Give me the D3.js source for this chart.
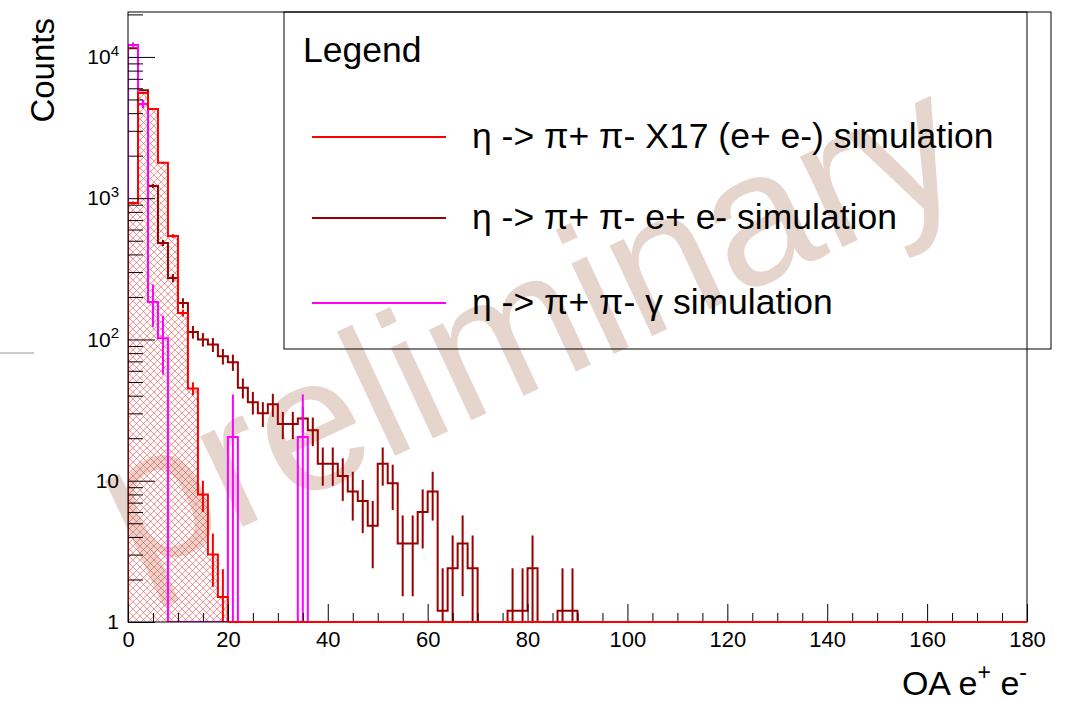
<!DOCTYPE html>
<html><head><meta charset="utf-8">
<script src="https://cdn.jsdelivr.net/npm/d3@7"></script>
<style>
body{margin:0;background:#fff}
text{font-family:"Liberation Sans",Arial,Helvetica,sans-serif}
</style>
</head><body>
<svg id="c" width="1066" height="701"></svg>
<script>
// ---------- data (bin width 2 in OA, 0..180) ----------
const binWidth = 2;
const xRange = [0, 180];
const yRange = [1, 20800];
// eta -> pi+ pi- X17 (e+ e-) simulation (first 10 bins; rest empty)
const x17Counts = [926, 5560, 4280, 1780, 540, 154, 45, 8, 3, 1.5];
// eta -> pi+ pi- e+ e- simulation
const eeCounts = [11500, 5800, 1220, 482, 272, 181, 113, 100, 92, 76,
                  69, 45.6, 36, 30, 34.8, 25.2, 25.2, 27.6, 22.8, 13.2,
                  13.2, 10.8, 8.4, 7.2, 4.8, 13.2, 9.6, 3.6, 3.6, 6.0,
                  8.4, 1.2, 2.4, 3.6, 2.4, 0, 0, 0, 1.2, 1.2,
                  2.4, 0, 0, 1.2, 1.2];
// eta -> pi+ pi- gamma simulation
const gammaCounts = [12170, 4650, 184, 102, 0, 0, 0, 0, 0, 0,
                     20.4, 0, 0, 0, 0, 0, 0, 20.4];
// per-event weights (errors = sqrt(sum w^2))
const x17Weight = 0.5, eeWeight = 1.2, gammaWeight = 20.4;

const xMajorTicks = [0, 20, 40, 60, 80, 100, 120, 140, 160, 180];
const yMajorTicks = [1, 10, 100, 1000, 10000];
const yTickBase = ["1", "10", "10", "10", "10"];
const yTickExp = ["", "", "2", "3", "4"];
const legendTitle = "Legend";
const legendLabels = ["η -> π+ π- X17 (e+ e-) simulation",
                      "η -> π+ π- e+ e- simulation",
                      "η -> π+ π- γ simulation"];
const seriesColors = ["#ff0000", "#990000", "#ff00ff"];

// ---------- layout ----------
const L = 128, R = 1027, T = 12, B = 622;
const svg = d3.select("#c");
const x = d3.scaleLinear().domain(xRange).range([L, R]);
const y = d3.scaleLog().domain(yRange).range([B, T]);

svg.append("defs").append("clipPath").attr("id", "frame")
  .append("rect").attr("x", L).attr("y", T).attr("width", R - L).attr("height", B - T);
const hatch = svg.select("defs").append("pattern").attr("id", "hatch")
  .attr("patternUnits", "userSpaceOnUse").attr("width", 7).attr("height", 7);
hatch.append("path").attr("d", "M0,0L7,7M7,0L0,7M-1,6L1,8M6,-1L8,1M-1,1L1,-1M6,8L8,6")
  .attr("stroke", "#ff3030").attr("stroke-width", 0.8).attr("stroke-opacity", 0.65).attr("fill", "none");

// stray gray line at left margin (present in reference)
svg.append("line").attr("x1", 0).attr("x2", 34).attr("y1", 353).attr("y2", 353)
  .attr("stroke", "#999").attr("stroke-width", 1.2);

// watermark
svg.append("text").text("preliminary")
  .attr("transform", "translate(527,322) rotate(-25)")
  .attr("text-anchor", "middle").attr("dominant-baseline", "central")
  .attr("font-size", 189).attr("fill", "#e6d5cc");

const nBins = (xRange[1] - xRange[0]) / binWidth;
function full(arr) { return d3.range(nBins).map(i => i < arr.length ? arr[i] : 0); }
function stepPoints(arr) {
  const vals = full(arr);
  const pts = [[x(xRange[0]), B]];
  vals.forEach((v, i) => {
    const yy = v > 0 ? y(Math.max(v, yRange[0])) : B;
    pts.push([x(i * binWidth), yy], [x((i + 1) * binWidth), yy]);
  });
  pts.push([x(xRange[1]), B]);
  return pts;
}
const line = d3.line();
const plot = svg.append("g").attr("clip-path", "url(#frame)");

function drawHist(arr, w, color) {
  const pts = stepPoints(arr);
  plot.append("path").attr("d", line(pts)).attr("fill", "none")
    .attr("stroke", color).attr("stroke-width", 2);
  const g = plot.append("g");
  full(arr).forEach((v, i) => {
    if (v <= 0) return;
    const e = Math.sqrt(v * w);
    const lo = v - e, hi = v + e;
    g.append("line")
      .attr("x1", x((i + 0.5) * binWidth)).attr("x2", x((i + 0.5) * binWidth))
      .attr("y1", y(hi)).attr("y2", lo >= yRange[0] ? y(lo) : B + 2)
      .attr("stroke", color).attr("stroke-width", 2);
  });
}
const x17Pts = stepPoints(x17Counts);
plot.append("path").attr("d", line(x17Pts) + "Z").attr("fill", "url(#hatch)").attr("stroke", "none");
drawHist(eeCounts, eeWeight, seriesColors[1]);
drawHist(gammaCounts, gammaWeight, seriesColors[2]);
drawHist(x17Counts, x17Weight, seriesColors[0]);

// ---------- axes ----------
const xMinor = d3.range(0, 181, 5).filter(v => v % 20 !== 0);
const ax = svg.append("g").attr("transform", `translate(0,${B})`);
ax.call(d3.axisBottom(x).tickValues(xMajorTicks).tickSizeInner(-18).tickSizeOuter(0).tickPadding(9)
  .tickFormat(d3.format("d")));
ax.append("g").call(d3.axisBottom(x).tickValues(xMinor).tickSizeInner(-9).tickSizeOuter(0).tickFormat(""));
ax.selectAll("text").attr("font-size", 22).attr("fill", "#000").attr("font-family", "Liberation Sans, Arial, sans-serif");
ax.selectAll(".domain").remove();

const yMinor = [];
[1, 10, 100, 1000, 10000].forEach(d => { for (let k = 2; k <= 9; k++) if (d * k <= yRange[1]) yMinor.push(d * k); });
const ay = svg.append("g").attr("transform", `translate(${L},0)`);
ay.call(d3.axisLeft(y).tickValues(yMajorTicks).tickSizeInner(-27).tickSizeOuter(0).tickPadding(9)
  .tickFormat(() => ""));
ay.append("g").call(d3.axisLeft(y).tickValues(yMinor).tickSizeInner(-15).tickSizeOuter(0).tickFormat(""));
ay.selectAll(".domain").remove();
ay.selectAll(".tick").filter(d => yMajorTicks.includes(d)).select("text").each(function (d) {
  const idx = yMajorTicks.indexOf(d);
  const t = d3.select(this).attr("font-size", 21).attr("fill", "#000")
    .attr("font-family", "Liberation Sans, Arial, sans-serif");
  t.append("tspan").text(yTickBase[idx]);
  if (yTickExp[idx]) t.append("tspan").attr("font-size", 15).attr("dy", "-0.55em").text(yTickExp[idx]);
});
svg.selectAll(".tick line").attr("stroke", "#000").attr("stroke-width", 1);

// frame
svg.append("rect").attr("x", L).attr("y", T).attr("width", R - L).attr("height", B - T)
  .attr("fill", "none").attr("stroke", "#000").attr("stroke-width", 1);
// x17 line along the bottom on top of frame
svg.append("line").attr("x1", x(20)).attr("x2", R).attr("y1", B).attr("y2", B)
  .attr("stroke", "#ff0000").attr("stroke-width", 2);

// titles
svg.append("text").text("Counts").attr("transform", "translate(54,18) rotate(-90)")
  .attr("text-anchor", "end").attr("font-size", 33).attr("fill", "#000");
const xt = svg.append("text").attr("x", R).attr("y", 695).attr("text-anchor", "end")
  .attr("font-size", 34).attr("fill", "#000");
xt.append("tspan").text("OA e");
xt.append("tspan").attr("font-size", 23).attr("dy", -15).text("+");
xt.append("tspan").attr("dy", 15).text(" e");
xt.append("tspan").attr("font-size", 23).attr("dy", -15).text("-");

// legend
const lg = svg.append("g");
lg.append("rect").attr("x", 284).attr("y", 12).attr("width", 767).attr("height", 337)
  .attr("fill", "none").attr("stroke", "#000").attr("stroke-width", 1);
lg.append("text").text(legendTitle).attr("x", 303).attr("y", 62).attr("font-size", 35.5).attr("fill", "#000");
const rowY = [137, 218, 303];
legendLabels.forEach((lab, i) => {
  lg.append("line").attr("x1", 312).attr("x2", 446).attr("y1", rowY[i]).attr("y2", rowY[i])
    .attr("stroke", seriesColors[i]).attr("stroke-width", 2);
  lg.append("text").text(lab).attr("x", 472).attr("y", rowY[i] + 11)
    .attr("font-size", 35.5).attr("fill", "#000");
});
</script>
</body></html>
